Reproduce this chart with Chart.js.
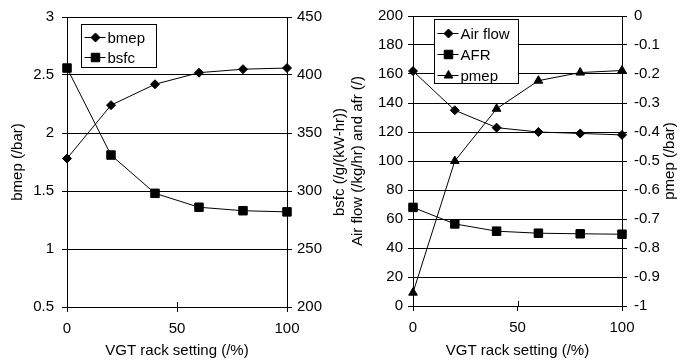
<!DOCTYPE html>
<html>
<head>
<meta charset="utf-8">
<script src="https://cdn.jsdelivr.net/npm/chart.js@4.4.1/dist/chart.umd.min.js"></script>
<style>
  html, body { margin: 0; padding: 0; background: #fff; }
  #wrap { position: relative; width: 690px; height: 362px; overflow: hidden; }
  canvas { position: absolute; top: 0; }
  #left { left: 0; }
  #right { left: 345px; }
</style>
</head>
<body>
<div id="wrap">
  <canvas id="left" width="355" height="362"></canvas>
  <canvas id="right" width="345" height="362"></canvas>
</div>
<script>
// VGT rack setting (%) - shared x values
const rackSetting = [0, 20, 40, 60, 80, 100];

// left chart
const bmep = [1.78, 2.24, 2.42, 2.52, 2.55, 2.56];
const bsfc = [406, 331, 298, 286, 283, 282];

// right chart
const airFlow = [162, 135, 123, 120, 119, 118];
const afr = [68, 56.6, 51.6, 50.2, 49.8, 49.5];
const pmep = [-0.954, -0.5, -0.32, -0.223, -0.195, -0.188];

const FONT = '"Liberation Sans", Arial, sans-serif';
Chart.defaults.font = { family: FONT, size: 15 };
Chart.defaults.color = '#000';

const fmt = v => String(Math.round(v * 10) / 10);
const pts = (ys) => rackSetting.map((x, i) => ({ x: x, y: ys[i] }));

function series(label, ys, style, radius, axis) {
    return {
        label: label,
        data: pts(ys),
        yAxisID: axis,
        borderColor: '#000',
        borderWidth: 1,
        backgroundColor: '#000',
        pointStyle: style,
        pointRadius: radius,
        pointBackgroundColor: '#000',
        pointBorderColor: '#000',
        pointBorderWidth: 1,
        tension: 0,
        fill: false,
        clip: false
    };
}

// legend with a box, line + marker for each entry
const boxLegend = {
    id: 'boxLegend',
    afterDraw(chart, args, opts) {
        const { ctx, chartArea } = chart;
        const x0 = Math.round(chartArea.left + opts.dx) + 0.5;
        const y0 = Math.round(chartArea.top + opts.dy) + 0.5;
        ctx.save();
        ctx.fillStyle = '#fff';
        ctx.fillRect(x0, y0, opts.width, opts.height);
        ctx.strokeStyle = '#000';
        ctx.lineWidth = 1;
        ctx.strokeRect(x0, y0, opts.width, opts.height);
        ctx.font = '15px ' + FONT;
        ctx.textBaseline = 'middle';
        chart.data.datasets.forEach((ds, i) => {
            const y = Math.round(y0 + opts.firstRow + i * opts.rowGap) + 0.5;
            ctx.beginPath();
            ctx.moveTo(x0 + 3, y);
            ctx.lineTo(x0 + 24, y);
            ctx.stroke();
            ctx.fillStyle = '#000';
            Chart.helpers.drawPoint(ctx, {
                pointStyle: ds.pointStyle, radius: ds.pointRadius, borderWidth: 1, rotation: 0
            }, x0 + 14, y);
            ctx.fillText(ds.label, x0 + 26, y + 1);
        });
        ctx.restore();
    }
};

// right-hand axis title reading bottom to top, and x ticks crossing the axis
const axisExtras = {
    id: 'axisExtras',
    afterDraw(chart, args, opts) {
        const { ctx, chartArea } = chart;
        const scale = chart.scales.y1;
        ctx.save();
        ctx.translate(scale.left + opts.offset, (chartArea.top + chartArea.bottom) / 2);
        ctx.rotate(-Math.PI / 2);
        ctx.font = '15px ' + FONT;
        ctx.fillStyle = '#000';
        ctx.textAlign = 'center';
        ctx.textBaseline = 'middle';
        ctx.fillText(opts.text, 0, 0);
        ctx.restore();

        const xs = chart.scales.x;
        ctx.save();
        ctx.strokeStyle = '#000';
        ctx.lineWidth = 1;
        ctx.beginPath();
        xs.ticks.forEach(t => {
            const px = Math.round(xs.getPixelForValue(t.value)) + 0.5;
            ctx.moveTo(px, chartArea.bottom - 5);
            ctx.lineTo(px, chartArea.bottom);
        });
        ctx.stroke();
        ctx.restore();
    }
};

function makeChart(id, cfg) {
    return new Chart(document.getElementById(id), {
        type: 'line',
        data: { datasets: cfg.datasets },
        plugins: [boxLegend, axisExtras],
        options: {
            responsive: false,
            animation: false,
            devicePixelRatio: 1,
            layout: { padding: { top: 14, left: 0, right: 0, bottom: 0 } },
            plugins: {
                legend: { display: false },
                tooltip: { enabled: false },
                boxLegend: cfg.legend,
                axisExtras: cfg.rightTitle
            },
            scales: {
                x: {
                    type: 'linear', min: 0, max: 100,
                    ticks: { stepSize: 50, padding: 8 },
                    grid: { drawOnChartArea: false, tickLength: 5, color: '#000' },
                    border: { color: '#000' },
                    title: { display: true, text: 'VGT rack setting (/%)', padding: { top: 0, bottom: 2 } },
                    afterFit: s => { s.height = cfg.xHeight; }
                },
                y: {
                    position: 'left', min: cfg.y.min, max: cfg.y.max,
                    ticks: { stepSize: cfg.y.step, padding: cfg.y.pad, callback: fmt },
                    grid: { color: '#000', tickLength: 5 },
                    border: { color: '#000' },
                    title: { display: true, text: cfg.y.title, padding: { top: cfg.y.titlePad, bottom: 0 } },
                    afterFit: s => { s.width = cfg.y.width; }
                },
                y1: {
                    position: 'right', min: cfg.y1.min, max: cfg.y1.max,
                    ticks: { stepSize: cfg.y1.step, padding: cfg.y1.pad, callback: fmt },
                    grid: { drawOnChartArea: false, tickLength: 5, color: '#000' },
                    border: { color: '#000' },
                    afterFit: s => { s.width = cfg.y1.width; }
                }
            }
        }
    });
}

makeChart('left', {
    datasets: [
        series('bmep', bmep, 'rectRot', 4.5, 'y'),
        series('bsfc', bsfc, 'rect', 6, 'y1')
    ],
    xHeight: 55,
    y: { min: 0.5, max: 3, step: 0.5, pad: 8, title: 'bmep (/bar)', titlePad: 9, width: 67 },
    y1: { min: 200, max: 450, step: 50, pad: 5, width: 68 },
    legend: { dx: 14, dy: 7, width: 75, height: 43, firstRow: 12, rowGap: 20 },
    rightTitle: { text: 'bsfc (/g/(kW-hr))', offset: 53 }
});

makeChart('right', {
    datasets: [
        series('Air flow', airFlow, 'rectRot', 4.5, 'y'),
        series('AFR', afr, 'rect', 6, 'y'),
        series('pmep', pmep, 'triangle', 5, 'y1')
    ],
    xHeight: 56,
    y: { min: 0, max: 200, step: 20, pad: 5, title: 'Air flow (/kg/hr) and afr (/)', titlePad: 4, width: 68 },
    y1: { min: -1, max: 0, step: 0.1, pad: 7, width: 68 },
    legend: { dx: 21, dy: 3, width: 84, height: 64, firstRow: 13, rowGap: 21 },
    rightTitle: { text: 'pmep (/bar)', offset: 48 }
});
</script>
</body>
</html>
